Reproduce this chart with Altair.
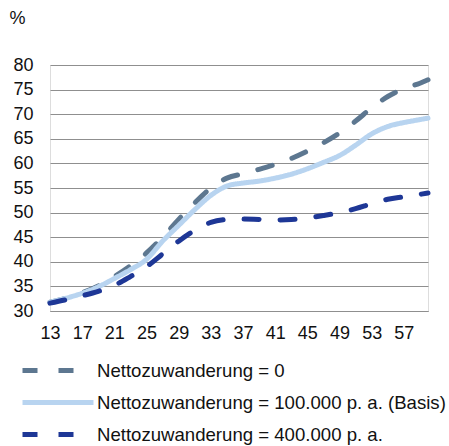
import altair as alt
import pandas as pd

jahre = [13, 15, 17, 19, 21, 23, 25, 27, 29, 31, 33, 35, 37, 39, 41, 43, 45, 47, 49, 51, 53, 55, 57, 59, 60]
null_zuw = [31.8, 32.6, 33.7, 35.1, 37.0, 39.2, 41.8, 45.0, 48.6, 52.0, 55.0, 57.0, 57.9, 58.8, 59.8, 61.0, 62.5, 64.2, 66.2, 68.6, 71.3, 73.6, 75.2, 76.3, 77.0]
basis = [31.8, 32.6, 33.6, 34.9, 36.6, 38.4, 40.5, 44.2, 47.4, 50.6, 53.5, 55.4, 56.0, 56.4, 57.0, 57.8, 58.9, 60.2, 61.6, 63.7, 66.0, 67.5, 68.3, 68.9, 69.2]
hoch = [31.6, 32.3, 33.1, 34.0, 35.2, 37.0, 39.0, 41.6, 44.2, 46.4, 48.0, 48.6, 48.7, 48.6, 48.5, 48.6, 48.9, 49.4, 50.0, 50.8, 51.8, 52.7, 53.2, 53.7, 54.0]

serien = ["Nettozuwanderung = 0",
          "Nettozuwanderung = 100.000 p. a. (Basis)",
          "Nettozuwanderung = 400.000 p. a."]
farben = ["#5d7790", "#b8d4f0", "#1e3796"]
striche = [[15, 21], [1, 0], [15, 21]]
x_ticks = [13, 17, 21, 25, 29, 33, 37, 41, 45, 49, 53, 57]
y_ticks = [30, 35, 40, 45, 50, 55, 60, 65, 70, 75, 80]

rows = []
for name, werte in zip(serien, [null_zuw, basis, hoch]):
    for j, v in zip(jahre, werte):
        rows.append({"Jahr": j, "Wert": v, "Serie": name})
df = pd.DataFrame(rows)

FONT = "Liberation Sans"


def legende():
    return alt.Legend(title=None, orient="none", legendX=-4.5, legendY=293,
                      direction="vertical", symbolType="M-3.55,0H3.55",
                      symbolSize=400, symbolStrokeWidth=5,
                      labelFontSize=18.6, labelFont=FONT, labelColor="#111",
                      labelLimit=0, labelOffset=26.5, rowPadding=9,
                      padding=0)


chart = alt.Chart(df).mark_line(
    strokeWidth=5, strokeCap="round", interpolate="monotone"
).encode(
    x=alt.X("Jahr:Q",
            scale=alt.Scale(domain=[13, 60], nice=False, zero=False),
            axis=alt.Axis(values=x_ticks, title=None, grid=False, ticks=False,
                          domainColor="#8f8f8f", domainWidth=1,
                          labelFontSize=18, labelFont=FONT, labelColor="#111",
                          labelPadding=13, labelFlush=False, labelOverlap=False)),
    y=alt.Y("Wert:Q",
            scale=alt.Scale(domain=[30, 80], nice=False, zero=False),
            axis=alt.Axis(values=y_ticks, title="%", titleAngle=0, titleAlign="left",
                          titleBaseline="middle", titleX=-41, titleY=-47,
                          titleFontSize=18, titleFont=FONT, titleFontWeight="normal",
                          titleColor="#111",
                          grid=True, gridColor="#8f8f8f", gridWidth=1,
                          domain=False, ticks=False,
                          labelFontSize=18, labelFont=FONT, labelColor="#111",
                          labelPadding=17)),
    color=alt.Color("Serie:N",
                    scale=alt.Scale(domain=serien, range=farben),
                    legend=legende()),
    strokeDash=alt.StrokeDash("Serie:N",
                              scale=alt.Scale(domain=serien, range=striche),
                              legend=legende()),
).properties(
    width=378, height=246,
    autosize=alt.AutoSizeParams(type="none"),
    padding={"left": 50, "top": 65, "right": 21, "bottom": 135},
).configure_view(stroke=None).configure(background="white")

chart.save("out.html", embed_options={"renderer": "svg", "actions": False})
